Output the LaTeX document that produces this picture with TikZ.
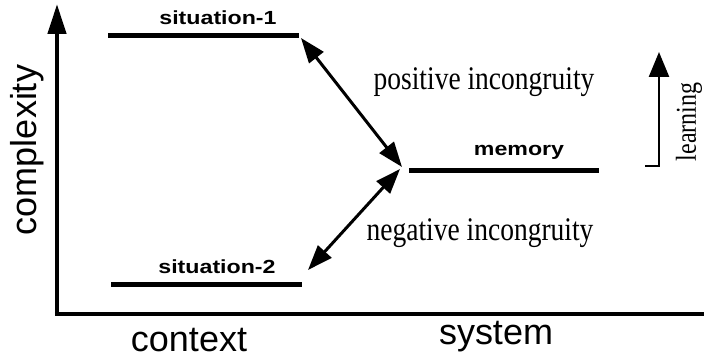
\documentclass[tikz,border=0pt]{standalone}
\usepackage{fontspec}
\setmainfont{Liberation Serif}
\setsansfont{Liberation Sans}
\usetikzlibrary{arrows.meta, positioning}

\newcommand{\widelabel}[1]{\scalebox{1.22}[1]{#1}}
\newcommand{\tallnote}[1]{\scalebox{1}[1.2]{#1}}

\begin{document}
\begin{tikzpicture}[
  x=1pt, y=-1pt,
  axisline/.style={line width=4.5pt},
  level/.style={line width=5pt},
  levellabel/.style={font=\sffamily\bfseries\fontsize{19}{19}\selectfont, inner sep=0pt},
  axislabel/.style={font=\sffamily\fontsize{36}{36}\selectfont, inner sep=0pt},
  note/.style={font=\fontsize{27.5}{27.5}\selectfont, inner sep=0pt},
  incong/.style={line width=3pt,
    {Triangle[length=25pt,width=18pt]}-{Triangle[length=25pt,width=18pt]}},
  learn/.style={line width=2.5pt, -{Triangle[length=25pt,width=20pt]}},
]
  \useasboundingbox (0,0) rectangle (704,358);

  % Axes
  \coordinate (origin) at (57,314);
  \coordinate (ytop) at (57,4);
  \coordinate (xend) at (704,314);
  \draw[axisline, -{Triangle[length=30pt,width=18pt]}] (origin) -- (ytop);
  \draw[axisline] ([xshift=-2.25pt]origin) -- (xend);

  \node[axislabel, rotate=90] (complexity) at (27,150) {complexity};
  \node[axislabel] (context) at (189,340) {context};
  \node[axislabel] (system) at (496,337) {system};

  % Levels
  \coordinate (s1w) at (108,36);
  \coordinate (s1e) at (299,36);
  \coordinate (s2w) at (111,284);
  \coordinate (s2e) at (302,284);
  \coordinate (memw) at (409,171);
  \coordinate (meme) at (599,171);
  \draw[level] (s1w) -- (s1e);
  \draw[level] (s2w) -- (s2e);
  \draw[level] (memw) -- (meme);

  \node[levellabel] (sit1) at (218,18) {\widelabel{situation-1}};
  \node[levellabel] (sit2) at (217,267) {\widelabel{situation-2}};
  \node[levellabel] (mem) at (519,152) {\widelabel{memory}};

  % Incongruity arrows
  \coordinate (s1tip) at (301,38);
  \coordinate (s2tip) at (308,270);
  \coordinate (memtipA) at (402,167);
  \coordinate (memtipB) at (400,169);
  \draw[incong] (s1tip) -- (memtipA);
  \draw[incong] (memtipB) -- (s2tip);

  \node[note] (pos) at (484,82) {\tallnote{positive incongruity}};
  \node[note] (neg) at (480,233) {\tallnote{negative incongruity}};

  % Learning
  \coordinate (lfoot) at (645,166);
  \coordinate (lbase) at (659,166);
  \coordinate (ltop) at (659,52);
  \draw[learn] (lfoot) -- (lbase) -- (ltop);
  \node[note, font=\fontsize{24}{24}\selectfont, rotate=90] (learning) at (689,122) {\tallnote{learning}};
\end{tikzpicture}
\end{document}
